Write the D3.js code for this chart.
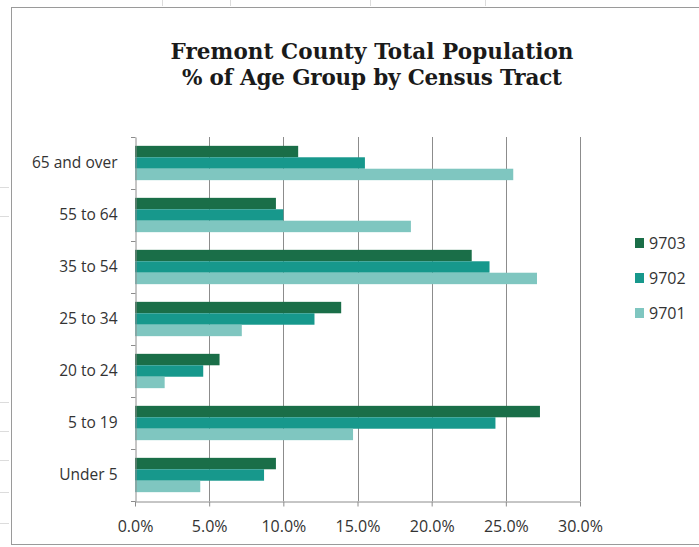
<!DOCTYPE html>
<html>
<head>
<meta charset="utf-8">
<script src="https://cdn.jsdelivr.net/npm/d3@7"></script>
<style>
  html, body { margin: 0; padding: 0; background: #ffffff; }
  svg { display: block; }
</style>
</head>
<body>
<svg id="chart" width="699" height="547"></svg>
<script>
// Age groups, listed top to bottom as drawn
const categories = ["65 and over", "55 to 64", "35 to 54", "25 to 34", "20 to 24", "5 to 19", "Under 5"];
// Census tracts, in the order each group's bars are stacked top to bottom
const seriesNames = ["9703", "9702", "9701"];
// Share of each tract's population in an age group (%)
const tract9703 = [11.0, 9.5, 22.7, 13.9, 5.7, 27.3, 9.5];
const tract9702 = [15.5, 10.0, 23.9, 12.1, 4.6, 24.3, 8.7];
const tract9701 = [25.5, 18.6, 27.1, 7.2, 2.0, 14.7, 4.4];
const xTicks = [0, 5, 10, 15, 20, 25, 30];
const titleLines = ["Fremont County Total Population", "% of Age Group by Census Tract"];

const seriesValues = { "9703": tract9703, "9702": tract9702, "9701": tract9701 };
const colors = { "9703": "#1a6e48", "9702": "#17988c", "9701": "#7fc6c0" };

const svg = d3.select("#chart");
const sansFont = "'Open Sans', 'DejaVu Sans', sans-serif";

// faint worksheet cell lines showing outside the chart frame
const g0 = svg.append("g").attr("stroke", "#dcdcdc").attr("stroke-width", 1);
[187, 216, 402, 431, 460, 492, 523].forEach(y =>
  g0.append("line").attr("x1", 0).attr("x2", 9).attr("y1", y + 0.5).attr("y2", y + 0.5));
[162, 230, 370, 485].forEach(x =>
  g0.append("line").attr("x1", x + 0.5).attr("x2", x + 0.5).attr("y1", 0).attr("y2", 6));

// chart frame
svg.append("rect")
  .attr("x", 11.5).attr("y", 7.5)
  .attr("width", 700).attr("height", 537)
  .attr("fill", "#ffffff")
  .attr("stroke", "#9a9a9a").attr("stroke-width", 1);

// Title, two centred lines
const titleWidths = [403, 380];
svg.append("g")
  .selectAll("text").data(titleLines).join("text")
  .attr("x", 372)
  .attr("y", (d, i) => 59 + i * 26)
  .attr("text-anchor", "middle")
  .attr("font-family", "'DejaVu Serif', 'Liberation Serif', serif")
  .attr("font-weight", "bold")
  .attr("font-size", 21.5)
  .attr("fill", "#1a1a1a")
  .attr("textLength", (d, i) => titleWidths[i])
  .attr("lengthAdjust", "spacing")
  .text(d => d);

// Scales
const x = d3.scaleLinear().domain([0, 30]).range([135, 580]);
const y0 = d3.scaleBand().domain(categories).range([137, 501]).padding(0);
const y1 = d3.scaleBand().domain(seriesNames)
  .range([y0.bandwidth() * 0.17, y0.bandwidth() * 0.83]).padding(0);

// Vertical gridlines
svg.append("g")
  .selectAll("line").data(xTicks.filter(t => t > 0)).join("line")
  .attr("x1", d => Math.round(x(d)) + 0.5).attr("x2", d => Math.round(x(d)) + 0.5)
  .attr("y1", 137).attr("y2", 501)
  .attr("stroke", "#8c8c8c").attr("stroke-width", 1);

// Bars
const groups = svg.append("g")
  .selectAll("g").data(categories).join("g")
  .attr("transform", d => `translate(0,${y0(d)})`);

groups.selectAll("rect")
  .data((cat, i) => seriesNames.map(s => ({ s, v: seriesValues[s][i] })))
  .join("rect")
  .attr("x", x(0))
  .attr("y", d => y1(d.s))
  .attr("width", d => x(d.v) - x(0))
  .attr("height", y1.bandwidth())
  .attr("fill", d => colors[d.s]);

// Axes
const xAxis = d3.axisBottom(x)
  .tickValues(xTicks)
  .tickFormat(d => d3.format(".1f")(d) + "%")
  .tickSize(5).tickSizeOuter(0);
const gx = svg.append("g").attr("transform", "translate(0,501.5)").call(xAxis);
gx.select(".domain").attr("stroke", "#8c8c8c");
gx.selectAll(".tick line").attr("stroke", "#8c8c8c");
gx.selectAll(".tick text")
  .attr("y", 19)
  .attr("font-family", sansFont).attr("font-size", 16).attr("fill", "#333");

const yAxis = d3.axisLeft(y0).tickSize(0).tickPadding(18);
const gy = svg.append("g").attr("transform", "translate(135.5,0)").call(yAxis);
gy.select(".domain").attr("stroke", "#8c8c8c");
gy.selectAll(".tick text")
  .attr("font-family", sansFont).attr("font-size", 15.5).attr("fill", "#333");

// Category boundary tick marks on the y axis
svg.append("g")
  .selectAll("line").data(d3.range(categories.length + 1)).join("line")
  .attr("x1", 131).attr("x2", 135.5)
  .attr("y1", i => Math.round(137 + i * y0.step()) + 0.5)
  .attr("y2", i => Math.round(137 + i * y0.step()) + 0.5)
  .attr("stroke", "#8c8c8c");

// Legend
const legend = svg.append("g").attr("transform", "translate(635,243)");
const li = legend.selectAll("g").data(seriesNames).join("g")
  .attr("transform", (d, i) => `translate(0,${i * 35})`);
li.append("rect")
  .attr("x", 0).attr("y", -5).attr("width", 9).attr("height", 10)
  .attr("fill", d => colors[d]);
li.append("text")
  .attr("x", 14).attr("y", 0).attr("dy", "0.35em")
  .attr("font-family", sansFont).attr("font-size", 16).attr("fill", "#333")
  .text(d => d);
</script>
</body>
</html>
